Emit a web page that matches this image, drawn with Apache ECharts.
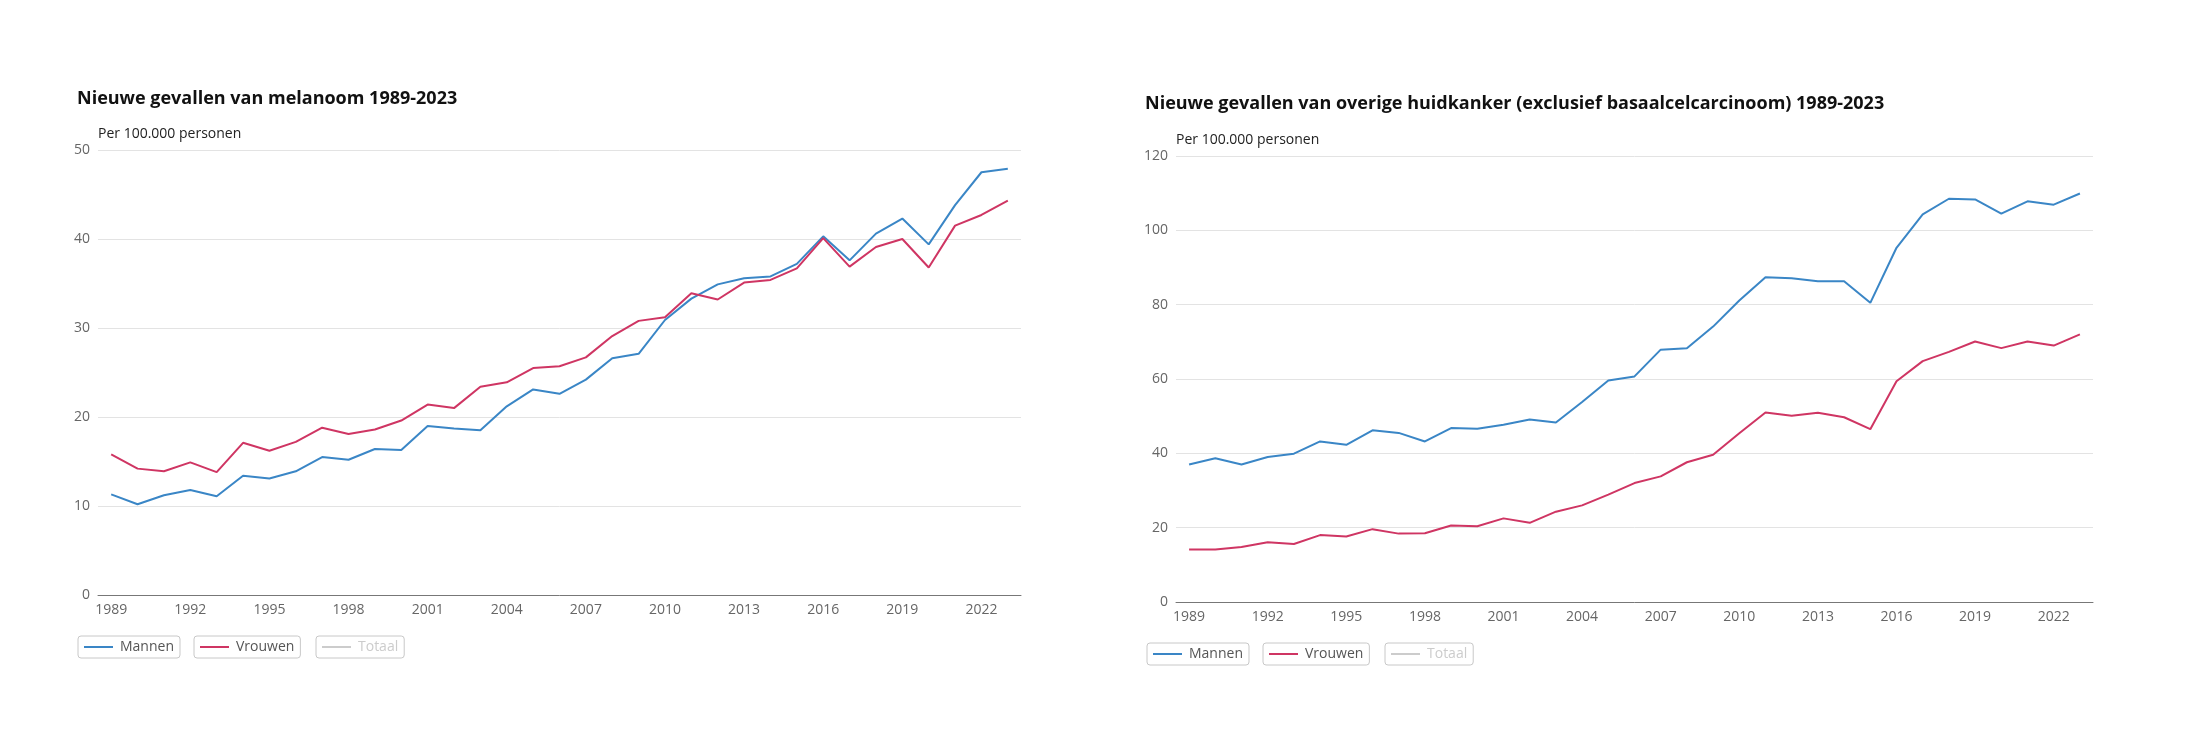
<!DOCTYPE html>
<html>
<head>
<meta charset="utf-8">
<script src="https://cdn.jsdelivr.net/npm/echarts@6/dist/echarts.min.js"></script>
<style>
  html, body { margin: 0; padding: 0; background: #fff; }
  #main { width: 2186px; height: 740px; }
</style>
</head>
<body>
<div id="main"></div>
<script>
// jaren 1989-2023
var years = [];
for (var y = 1989; y <= 2023; y++) { years.push(String(y)); }

// melanoom, per 100.000 personen
var melMannen = [11.3, 10.2, 11.2, 11.8, 11.1, 13.4, 13.1, 13.9, 15.5, 15.2,
                 16.4, 16.3, 19.0, 18.7, 18.5, 21.2, 23.1, 22.6, 24.2, 26.6,
                 27.1, 30.9, 33.3, 34.9, 35.6, 35.8, 37.2, 40.3, 37.6, 40.6,
                 42.3, 39.4, 43.8, 47.5, 47.9];
var melVrouwen = [15.8, 14.2, 13.9, 14.9, 13.8, 17.1, 16.2, 17.2, 18.8, 18.1,
                  18.6, 19.6, 21.4, 21.0, 23.4, 23.9, 25.5, 25.7, 26.7, 29.1,
                  30.8, 31.2, 33.9, 33.2, 35.1, 35.4, 36.7, 40.1, 36.9, 39.1,
                  40.0, 36.8, 41.5, 42.7, 44.3];

// overige huidkanker (excl. basaalcelcarcinoom)
var ovMannen = [37.0, 38.7, 37.0, 39.0, 39.9, 43.2, 42.3, 46.2, 45.5, 43.2,
                46.8, 46.6, 47.7, 49.1, 48.3, 53.8, 59.6, 60.7, 67.9, 68.3,
                74.1, 81.1, 87.4, 87.1, 86.3, 86.3, 80.5, 95.3, 104.3, 108.5,
                108.3, 104.5, 107.8, 106.9, 109.9];
var ovVrouwen = [14.1, 14.1, 14.8, 16.1, 15.6, 18.0, 17.6, 19.6, 18.4, 18.5,
                 20.6, 20.4, 22.5, 21.3, 24.3, 26.0, 28.9, 32.0, 33.8, 37.6,
                 39.6, 45.4, 51.0, 50.1, 50.9, 49.7, 46.5, 59.4, 64.8, 67.3,
                 70.1, 68.3, 70.1, 69.0, 72.0];
var totaal = []; // niet getoond

var FONT = '"Open Sans"';
var BLUE = '#3a86c6';
var RED = '#cf3563';

function legendBox(name, left, top) {
    return {
        data: [name],
        left: left,
        top: top,
        orient: 'horizontal',
        icon: 'rect',
        itemWidth: 29,
        itemHeight: 2,
        itemGap: 0,
        padding: [4, 6, 4, 6],
        borderColor: '#c8c8c8',
        borderWidth: 1,
        borderRadius: 3,
        inactiveColor: '#cccccc',
        selectedMode: false,
        textStyle: { fontFamily: FONT, fontSize: 14, color: '#555', lineHeight: 14, padding: [0, 0, 0, 2] }
    };
}

function xAxisFor(gi) {
    return {
        type: 'category',
        gridIndex: gi,
        data: years,
        boundaryGap: true,
        axisLine: { lineStyle: { color: '#777', width: 1 } },
        axisTick: { alignWithLabel: true, interval: 2, length: 4, lineStyle: { color: '#777' } },
        axisLabel: { interval: 2, fontFamily: FONT, fontSize: 14, color: '#666', margin: 8 }
    };
}

function yAxisFor(gi, max, step) {
    return {
        type: 'value',
        gridIndex: gi,
        min: 0,
        max: max,
        interval: step,
        name: 'Per 100.000 personen',
        nameLocation: 'end',
        nameGap: 9,
        nameTextStyle: { fontFamily: FONT, fontSize: 14, color: '#222', align: 'left' },
        axisLine: { show: false },
        axisTick: { show: false },
        axisLabel: { fontFamily: FONT, fontSize: 14, color: '#666', margin: 8 },
        splitLine: { lineStyle: { color: '#e3e3e3', width: 1 } }
    };
}

function lineSeries(name, data, color, gi) {
    return {
        type: 'line',
        name: name,
        xAxisIndex: gi,
        yAxisIndex: gi,
        data: data,
        symbol: 'none',
        showSymbol: false,
        lineStyle: { color: color, width: 2 },
        itemStyle: { color: color },
        animation: false
    };
}

var chart = echarts.init(document.getElementById('main'));
chart.setOption({
    backgroundColor: '#fff',
    animation: false,
    title: [
        { text: 'Nieuwe gevallen van melanoom 1989-2023', left: 72, top: 85,
          textStyle: { fontFamily: FONT, fontSize: 18, fontWeight: 'bold', color: '#111' } },
        { text: 'Nieuwe gevallen van overige huidkanker (exclusief basaalcelcarcinoom) 1989-2023', left: 1140, top: 90,
          textStyle: { fontFamily: FONT, fontSize: 18, fontWeight: 'bold', color: '#111' } }
    ],
    grid: [
        { left: 98, top: 150, width: 923, height: 445 },
        { left: 1176, top: 156, width: 917, height: 446 }
    ],
    xAxis: [xAxisFor(0), xAxisFor(1)],
    yAxis: [yAxisFor(0, 50, 10), yAxisFor(1, 120, 20)],
    legend: [
        legendBox('Mannen', 78, 636),
        legendBox('Vrouwen', 194, 636),
        legendBox('Totaal', 316, 636),
        legendBox('Mannen', 1147, 643),
        legendBox('Vrouwen', 1263, 643),
        legendBox('Totaal', 1385, 643)
    ],
    series: [
        lineSeries('Mannen', melMannen, BLUE, 0),
        lineSeries('Vrouwen', melVrouwen, RED, 0),
        lineSeries('Totaal', totaal, '#bbbbbb', 0),
        lineSeries('Mannen', ovMannen, BLUE, 1),
        lineSeries('Vrouwen', ovVrouwen, RED, 1),
        lineSeries('Totaal', totaal, '#bbbbbb', 1)
    ]
});
// Totaal staat uit
chart.dispatchAction({ type: 'legendUnSelect', name: 'Totaal' });
</script>
</body>
</html>
